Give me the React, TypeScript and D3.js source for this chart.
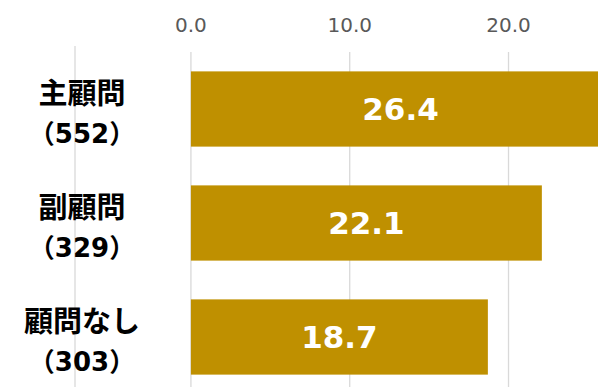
import React from "react";
import * as d3 from "d3";

const categories = ["主顧問", "副顧問", "顧問なし"];
const counts = ["552", "329", "303"];
const values = [26.4, 22.1, 18.7];
const tickValues = [0, 10, 20];

const W = 598;
const H = 387;

export default function App() {
  const x = d3.scaleLinear().domain([-7.3, 30]).range([75, 667.3]);
  const y = d3
    .scaleBand<string>()
    .domain(categories)
    .range([52, 394])
    .paddingInner(0.34)
    .paddingOuter(0.17);

  const gridTop = 52;
  const gridBottom = 394;
  const [d0] = x.domain();

  return (
    <svg
      width={W}
      height={H}
      style={{ position: "absolute", left: 0, top: 0, display: "block" }}
    >
      <rect x={0} y={0} width={W} height={H} fill="#ffffff" />
      {/* plot-area left edge */}
      <line
        x1={x(d0)}
        x2={x(d0)}
        y1={46}
        y2={gridBottom}
        stroke="#d9d9d9"
        strokeWidth={1.3}
      />
      {tickValues.map((t) => (
        <g key={t}>
          <line
            x1={x(t)}
            x2={x(t)}
            y1={gridTop}
            y2={gridBottom}
            stroke="#d9d9d9"
            strokeWidth={1.3}
          />
          <text
            x={x(t)}
            y={32}
            textAnchor="middle"
            fontFamily="'DejaVu Sans', 'Noto Sans CJK JP', sans-serif"
            fontSize={20}
            fill="#595959"
          >
            {d3.format(".1f")(t)}
          </text>
        </g>
      ))}
      {categories.map((c, i) => {
        const by = y(c)!;
        const bh = y.bandwidth();
        const cy = by + bh / 2;
        const bx0 = x(0);
        const bx1 = x(values[i]);
        return (
          <g key={c}>
            <rect x={bx0} y={by} width={bx1 - bx0} height={bh} fill="#BF9000" />
            <text
              x={(bx0 + bx1) / 2}
              y={cy + 11}
              textAnchor="middle"
              fontFamily="'DejaVu Sans', sans-serif"
              fontWeight="bold"
              fontSize={31}
              fill="#ffffff"
            >
              {d3.format(".1f")(values[i])}
            </text>
            <text
              x={82}
              y={cy - 18}
              textAnchor="middle"
              dominantBaseline="central"
              fontFamily="'Noto Sans CJK JP', sans-serif"
              fontWeight="bold"
              fontSize={29}
              fill="#000000"
            >
              {c}
            </text>
            <text
              x={82}
              y={cy + 34}
              textAnchor="middle"
              fontFamily="'DejaVu Sans', 'Noto Sans CJK JP', sans-serif"
              fontWeight="bold"
              fontSize={26}
              fill="#000000"
            >
              {"（" + counts[i] + "）"}
            </text>
          </g>
        );
      })}
    </svg>
  );
}
